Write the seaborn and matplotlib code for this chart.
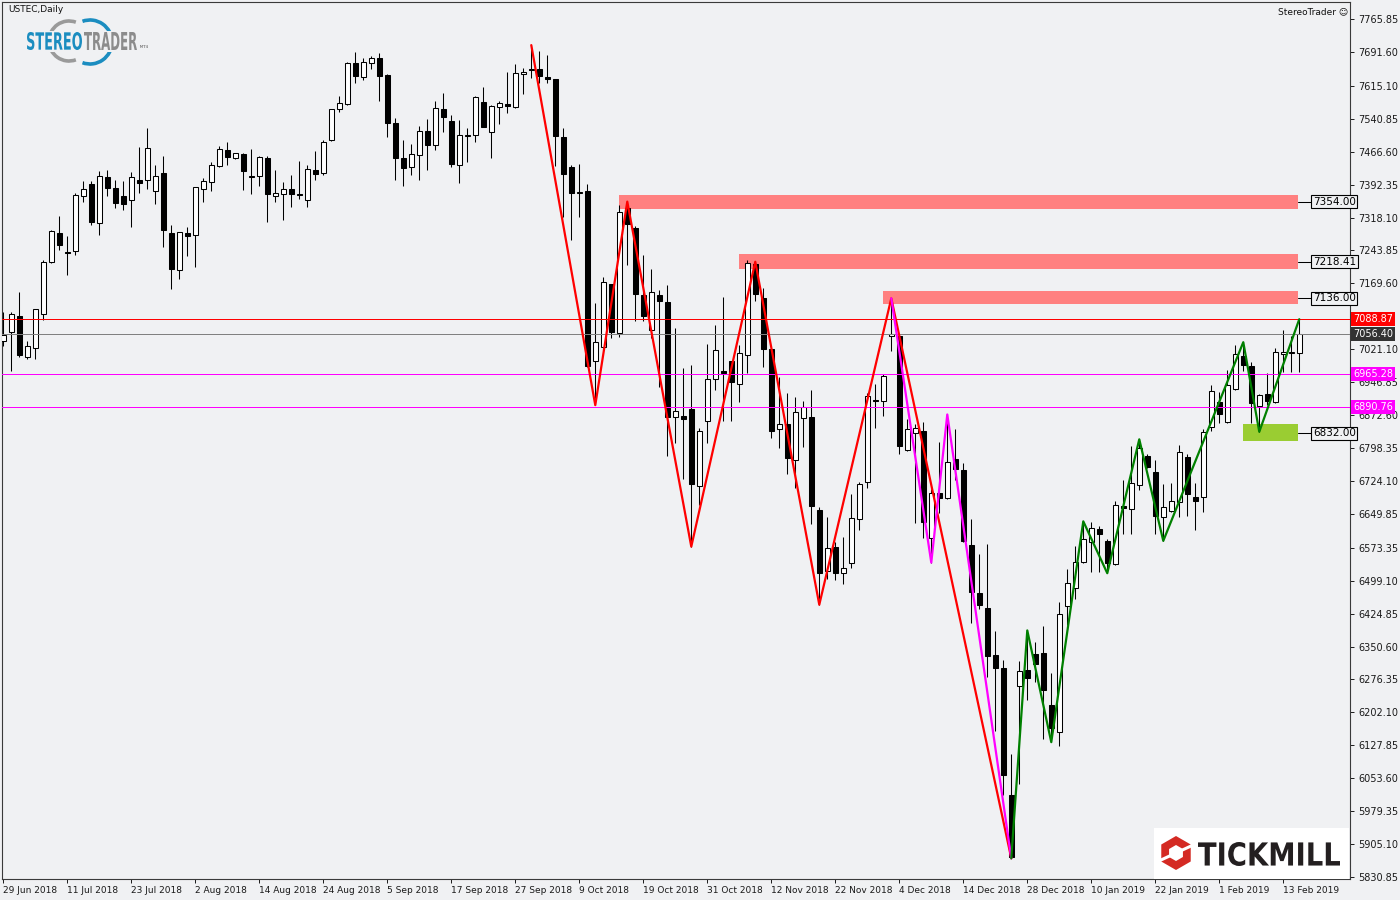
from __future__ import annotations

import matplotlib

matplotlib.use("Agg")
import matplotlib.pyplot as plt  # noqa: E402
import matplotlib.transforms as mtransforms  # noqa: E402
import numpy as np  # noqa: E402
import pandas as pd  # noqa: E402
import seaborn as sns  # noqa: E402
from matplotlib.font_manager import FontProperties  # noqa: E402
from matplotlib.patches import Arc, PathPatch, Polygon, Rectangle  # noqa: E402
from matplotlib.textpath import TextPath  # noqa: E402

sns.set_theme(style="white")
plt.rcParams["font.family"] = ["DejaVu Sans"]

# ---- daily candles, 29 Jun 2018 .. 15 Feb 2019 ----
opens = [
    7040, 7059, 7095, 7003, 7025, 7100, 7217, 7283, 7240, 7242,
    7366, 7393, 7305, 7410, 7384, 7366, 7357, 7403, 7402, 7377,
    7419, 7283, 7199, 7283, 7278, 7382, 7398, 7434, 7470, 7453,
    7461, 7411, 7411, 7452, 7367, 7372, 7382, 7371, 7358, 7425,
    7418, 7492, 7562, 7574, 7666, 7634, 7666, 7677, 7639, 7531,
    7452, 7431, 7459, 7513, 7481, 7562, 7536, 7436, 7502, 7504,
    7578, 7510, 7567, 7574, 7567, 7641, 7652, 7652, 7634, 7630,
    7499, 7431, 7373, 7377, 6994, 7027, 7168, 7057, 7339, 7294,
    7143, 7064, 7143, 7127, 6868, 6870, 6886, 6713, 6859, 6953,
    6971, 6994, 6942, 7007, 7213, 7136, 7021, 6841, 6852, 6771,
    6865, 6868, 6658, 6522, 6574, 6517, 6540, 6638, 6721, 6906,
    6904, 7050, 7050, 6795, 6832, 6836, 6595, 6696, 6685, 6773,
    6748, 6579, 6471, 6437, 6331, 6302, 6015, 6261, 6297, 6333,
    6335, 6218, 6157, 6441, 6483, 6541, 6586, 6615, 6588, 6536,
    6667, 6660, 6714, 6780, 6744, 6642, 6656, 6676, 6777, 6689,
    6689, 6845, 6901, 6856, 6931, 7005, 6983, 6892, 6920, 6901,
    7010, 7012, 7012,
]
highs = [
    7106, 7104, 7150, 7040, 7111, 7222, 7290, 7322, 7277, 7374,
    7401, 7401, 7423, 7425, 7403, 7401, 7421, 7477, 7520, 7437,
    7457, 7301, 7286, 7296, 7386, 7407, 7443, 7479, 7488, 7464,
    7463, 7473, 7456, 7456, 7425, 7398, 7413, 7445, 7436, 7468,
    7492, 7563, 7592, 7668, 7691, 7677, 7682, 7689, 7641, 7542,
    7492, 7483, 7524, 7540, 7580, 7598, 7549, 7538, 7519, 7592,
    7612, 7571, 7580, 7646, 7664, 7655, 7707, 7693, 7684, 7631,
    7519, 7436, 7438, 7394, 7125, 7185, 7168, 7346, 7354, 7298,
    7233, 7201, 7154, 7165, 7068, 6978, 6985, 6843, 7032, 7075,
    7138, 6995, 7030, 7222, 7218.41, 7159, 7023, 6958, 6922, 6913,
    6904, 6929, 6665, 6642, 6586, 6597, 6694, 6721, 6922, 6942,
    6965, 7136, 7055, 6863, 6852, 6856, 6705, 6811, 6874, 6841,
    6764, 6638, 6559, 6581, 6385, 6320, 6108, 6317, 6387, 6362,
    6396, 6290, 6450, 6525, 6577, 6633, 6631, 6622, 6593, 6678,
    6726, 6802, 6818, 6784, 6771, 6717, 6719, 6805, 6784, 6719,
    6841, 6940, 6924, 6974, 7030, 7037, 6992, 6920, 6967, 7023,
    7064, 7050, 7088.87,
]
lows = [
    7028, 6971, 7004, 6998, 7000, 7086, 7215, 7244, 7189, 7234,
    7354, 7302, 7279, 7367, 7340, 7336, 7297, 7374, 7382, 7349,
    7252, 7158, 7180, 7232, 7207, 7354, 7379, 7432, 7436, 7451,
    7381, 7372, 7390, 7309, 7354, 7313, 7343, 7361, 7343, 7403,
    7413, 7491, 7557, 7572, 7621, 7628, 7654, 7582, 7500, 7403,
    7390, 7413, 7403, 7425, 7470, 7512, 7431, 7397, 7444, 7488,
    7522, 7452, 7528, 7555, 7565, 7596, 7632, 7621, 7621, 7435,
    7320, 7268, 7320, 6982, 6895, 7019, 7046, 7048, 7210, 7084,
    7084, 7047, 6935, 6780, 6809, 6728, 6576, 6670, 6810, 6930,
    6860, 6860, 6903, 6967, 7130, 6982, 6820, 6798, 6739, 6708,
    6800, 6626, 6445, 6504, 6501, 6491, 6528, 6613, 6708, 6843,
    6870, 7017, 6784, 6791, 6630, 6595, 6540, 6652, 6683, 6726,
    6586, 6403, 6435, 6281, 6161, 6015, 5873, 6040, 6229, 6270,
    6141, 6135, 6126, 6399, 6458, 6538, 6518, 6518, 6516, 6535,
    6604, 6604, 6703, 6753, 6604, 6589, 6654, 6642, 6644, 6613,
    6653, 6836, 6854, 6854, 6929, 6971, 6854, 6835, 6895, 6899,
    6969, 6969, 6969,
]
closes = [
    7053, 7100, 7007, 7028, 7111, 7217, 7288, 7257, 7239, 7368,
    7382, 7307, 7411, 7385, 7352, 7349, 7409, 7397, 7476, 7411,
    7291, 7201, 7286, 7277, 7386, 7400, 7436, 7472, 7455, 7463,
    7422, 7410, 7454, 7372, 7373, 7382, 7372, 7370, 7427, 7416,
    7488, 7562, 7576, 7666, 7638, 7668, 7677, 7638, 7532, 7452,
    7429, 7461, 7513, 7481, 7565, 7544, 7438, 7504, 7503, 7589,
    7523, 7569, 7576, 7569, 7643, 7646, 7650, 7637, 7630, 7503,
    7417, 7374, 7376, 6984, 7037, 7172, 7059, 7330, 7303, 7145,
    7095, 7150, 7129, 6868, 6881, 6863, 6717, 6836, 6953, 7019,
    6967, 6947, 7012, 7215, 7146, 7021, 6836, 6852, 6775, 6879,
    6890, 6668, 6517, 6572, 6517, 6527, 6640, 6717, 6915, 6905,
    6960, 7055, 6802, 6841, 6843, 6631, 6696, 6685, 6766, 6750,
    6588, 6473, 6444, 6329, 6302, 6060, 5876, 6295, 6279, 6311,
    6252, 6166, 6423, 6493, 6541, 6593, 6617, 6604, 6538, 6669,
    6662, 6719, 6798, 6755, 6644, 6665, 6678, 6789, 6694, 6678,
    6834, 6926, 6874, 6940, 7010, 6985, 6899, 6917, 6904, 7014,
    7014, 7014, 7056.40,
]

date_labels = [
    "29 Jun 2018", "11 Jul 2018", "23 Jul 2018", "2 Aug 2018", "14 Aug 2018",
    "24 Aug 2018", "5 Sep 2018", "17 Sep 2018", "27 Sep 2018", "9 Oct 2018",
    "19 Oct 2018", "31 Oct 2018", "12 Nov 2018", "22 Nov 2018", "4 Dec 2018",
    "14 Dec 2018", "28 Dec 2018", "10 Jan 2019", "22 Jan 2019", "1 Feb 2019",
    "13 Feb 2019",
]
price_ticks = [
    7765.85, 7691.60, 7615.10, 7540.85, 7466.60, 7392.35, 7318.10, 7243.85,
    7169.60, 7021.10, 6946.85, 6872.60, 6798.35, 6724.10, 6649.85, 6573.35,
    6499.10, 6424.85, 6350.60, 6276.35, 6202.10, 6127.85, 6053.60, 5979.35,
    5905.10, 5830.85,
]

# zigzags (bar index, price)
red_bars = [66, 74, 78, 86, 94, 102, 111, 126]
red_prices = [7707, 6895, 7354, 6576, 7218.41, 6445, 7136, 5873]
pink_bars = [111, 116, 118, 126]
pink_prices = [7136, 6540, 6874, 5873]
green_bars = [126, 128, 131, 135, 138, 142, 145, 155, 157, 162]
green_prices = [5873, 6387, 6135, 6633, 6516, 6818, 6589, 7037, 6835, 7088.87]

# supply / demand zones
zone_levels = [7354.00, 7218.41, 7136.00, 6832.00]
zone_lo = [7338, 7202, 7124, 6815]
zone_hi = [7370, 7235, 7152, 6852]
zone_start = [77, 92, 110, 155]
zone_colors = ["#FF8080", "#FF8080", "#FF8080", "#9ACD32"]

# horizontal price lines
level_prices = [7088.87, 7056.40, 6965.28, 6890.76]
level_colors = ["#FF0000", "#808080", "#FF00FF", "#FF00FF"]
level_tags = ["#FF0000", "#333333", "#FF00FF", "#FF00FF"]

BG = "#F0F1F3"
W, H = 1400, 900

fig = plt.figure(figsize=(14, 9), dpi=100, facecolor=BG)
ax = fig.add_axes([2 / W, 21 / H, 1348 / W, 877 / H])
ax.set_facecolor(BG)

df = pd.DataFrame({"open": opens, "high": highs, "low": lows, "close": closes})
df["bar"] = np.arange(len(df))
rising = df["close"] >= df["open"]
body_lo = df[["open", "close"]].min(axis=1)
body_h = (df["close"] - df["open"]).abs().clip(lower=1.5)
last_bar = df["bar"].iloc[-1]

# zones behind candles
for lo, hi, start, col, lvl in zip(zone_lo, zone_hi, zone_start, zone_colors, zone_levels):
    ax.add_patch(Rectangle((start, lo), last_bar - 0.15 - start, hi - lo,
                           facecolor=col, edgecolor="none", zorder=2))
    ax.plot([last_bar - 0.15, 163.5], [lvl, lvl], color="black", lw=0.75,
            clip_on=False, zorder=6)
    ax.text(163.7, lvl, f"{lvl:.2f}", ha="left", va="center", fontsize=7.5,
            color="black", clip_on=False, zorder=7,
            bbox=dict(boxstyle="square,pad=0.15", fc=BG, ec="black", lw=0.8))

# candles
ax.vlines(df["bar"], df["low"], df["high"], color="black", lw=0.75, zorder=3)
ax.bar(df["bar"], body_h, bottom=body_lo, width=0.6,
       color=np.where(rising, "white", "black"), edgecolor="black",
       linewidth=0.75, zorder=4)

# price lines
for y, col in zip(level_prices, level_colors):
    ax.axhline(y, color=col, lw=0.72, antialiased=False, zorder=5)

# zigzags
sns.lineplot(x=red_bars, y=red_prices, ax=ax, color="#FF0000", lw=1.6,
             sort=False, legend=False, zorder=6)
sns.lineplot(x=pink_bars, y=pink_prices, ax=ax, color="#FF00FF", lw=1.6,
             sort=False, legend=False, zorder=6)
sns.lineplot(x=green_bars, y=green_prices, ax=ax, color="#008000", lw=1.6,
             sort=False, legend=False, zorder=6)

ax.set_xlim(-0.16, 168.34)
ax.set_ylim(5826.4, 7804.2)
ax.set_xlabel("")
ax.set_ylabel("")

ax.yaxis.tick_right()
ax.set_yticks(price_ticks)
ax.set_yticklabels([f"{v:.2f}" for v in price_ticks])
ax.tick_params(axis="y", right=True, left=False, length=3, width=0.7,
               pad=3, labelsize=7, colors="#1a1a1a")
ax.set_xticks(np.arange(len(date_labels)) * 8)
ax.set_xticklabels(date_labels, ha="left")
ax.tick_params(axis="x", bottom=True, length=3, width=0.7, pad=2,
               labelsize=6.5, colors="#1a1a1a")
for s in ax.spines.values():
    s.set_color("#3a3a3a")
    s.set_linewidth(0.8)

tag_tr = mtransforms.blended_transform_factory(ax.transAxes, ax.transData)
for y, col in zip(level_prices, level_tags):
    ax.text(1.0025, y, f"{y:.2f}", transform=tag_tr, ha="left", va="center",
            fontsize=7, color="white", clip_on=False, zorder=10,
            bbox=dict(boxstyle="square,pad=0.2", fc=col, ec="none"))

fig.text(8 / W, 1 - 10 / H, "USTEC,Daily", fontsize=6.5, ha="left",
         va="center", color="#111111")
fig.text(1348 / W, 1 - 12 / H, "StereoTrader \u263a", fontsize=6.5, ha="right",
         va="center", color="#111111")


# ---- logos (pixel coordinates, y measured from the top) ----
PX = mtransforms.IdentityTransform()


def fit_text(s, x0, y0, w, h, color, weight="bold"):
    tp = TextPath((0, 0), s, size=100,
                  prop=FontProperties(family="DejaVu Sans", weight=weight))
    ext = tp.get_extents()
    tr = (mtransforms.Affine2D().translate(-ext.x0, -ext.y0)
          .scale(w / ext.width, h / ext.height).translate(x0, H - y0 - h))
    fig.add_artist(PathPatch(tp, facecolor=color, edgecolor="none",
                             transform=tr, zorder=20))


fig.add_artist(Arc((69, H - 41), 40, 40, theta1=70, theta2=290,
                   color="#9A9A9A", lw=2.6, transform=PX, zorder=19))
fig.add_artist(Arc((90, H - 42), 44, 44, theta1=-110, theta2=110,
                   color="#1B8DC0", lw=2.6, transform=PX, zorder=19))
fig.add_artist(Rectangle((24, H - 52), 128, 21, facecolor=BG,
                         edgecolor="none", transform=PX, zorder=19.5))
fit_text("STEREO", 27, 32, 55, 18, "#1B8DC0")
fit_text("TRADER", 84, 32, 53, 18, "#8C8C8C")
fit_text("MT4", 140, 45, 8, 3, "#8C8C8C")

fig.add_artist(Rectangle((1154, H - 879), 195, 51, facecolor="white",
                         edgecolor="none", transform=PX, zorder=18))
cx, cy = 1176, H - 853
ang = np.deg2rad(np.arange(6) * 60 + 90)
fig.add_artist(Polygon(np.c_[cx + 17 * np.cos(ang), cy + 17 * np.sin(ang)],
                       closed=True, facecolor="#D42A23", edgecolor="none",
                       transform=PX, zorder=19))
fig.add_artist(Polygon(np.c_[cx + 8 * np.cos(ang), cy + 8 * np.sin(ang)],
                       closed=True, facecolor="white", edgecolor="none",
                       transform=PX, zorder=20))
for a in (25, 205):
    r = np.deg2rad(a)
    fig.add_artist(plt.Line2D([cx + 6 * np.cos(r), cx + 19 * np.cos(r)],
                              [cy + 6 * np.sin(r), cy + 19 * np.sin(r)],
                              color="white", lw=2.2, transform=PX, zorder=21))
fit_text("TICKMILL", 1198, 842, 142, 24, "#231F20")

fig.savefig("out.png", dpi=100, facecolor=BG)
